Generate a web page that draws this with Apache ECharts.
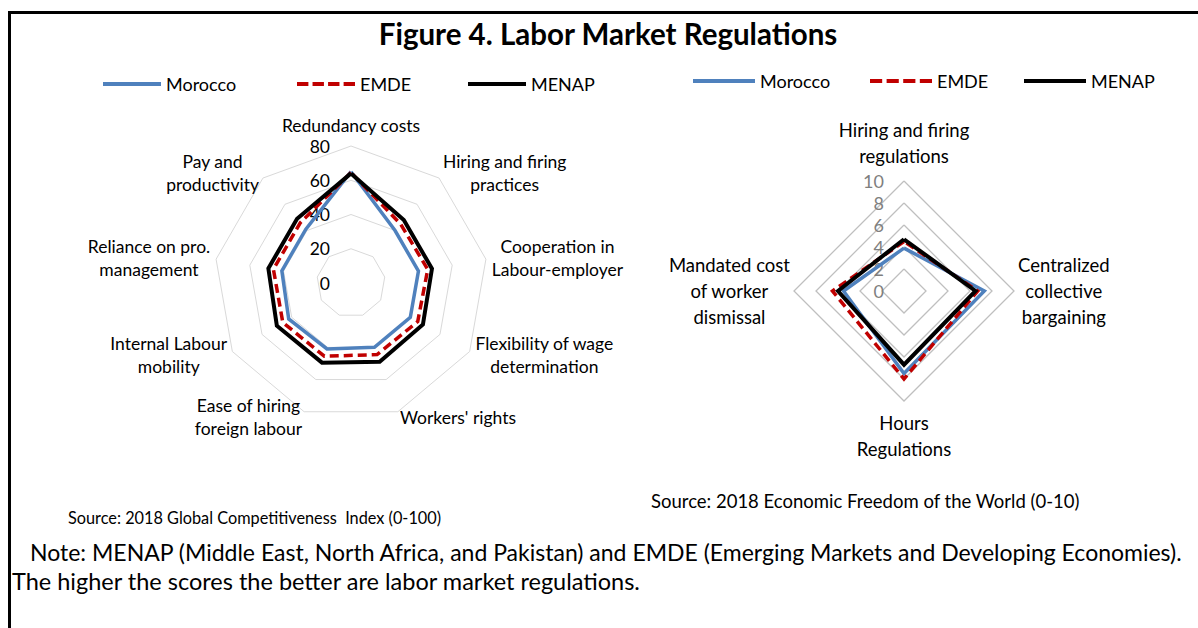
<!DOCTYPE html>
<html>
<head>
<meta charset="utf-8">
<script src="https://cdn.jsdelivr.net/npm/echarts@6/dist/echarts.min.js"></script>
<style>
  html, body { margin: 0; padding: 0; background: #fff; }
  #chart { width: 1198px; height: 628px; }
</style>
</head>
<body>
<div id="chart"></div>
<script>
// ---------- DATA ----------
const gciCategories = ['Redundancy costs', 'Hiring and firing\npractices', 'Cooperation in\nLabour-employer',
  'Flexibility of wage\ndetermination', "Workers' rights", 'Ease of hiring\nforeign labour',
  'Internal Labour\nmobility', 'Reliance on pro.\nmanagement', 'Pay and\nproductivity'];
const gciMorocco = [65, 40, 40, 40, 40, 41, 42, 41, 41];
const gciEMDE    = [64.5, 45, 45.5, 45, 44.5, 45.5, 46, 46, 46];
const gciMENAP   = [64, 48, 48, 48.5, 49, 49.5, 50, 49, 49];
const gciMax = 80;

const efwCategories = ['Hiring and firing\nregulations', 'Centralized\ncollective\nbargaining',
  'Hours\nRegulations', 'Mandated cost\nof worker\ndismissal'];
const efwMorocco = [3.9, 7.3, 7.5, 5.5];
const efwEMDE    = [4.5, 6.7, 8.0, 6.5];
const efwMENAP   = [4.7, 6.5, 6.7, 6.0];
const efwMax = 10;

const seriesNames = ['Morocco', 'EMDE', 'MENAP'];
const titleText = 'Figure 4. Labor Market Regulations';
const sourceLeft = 'Source: 2018 Global Competitiveness  Index (0-100)';
const sourceRight = 'Source: 2018 Economic Freedom of the World (0-10)';
const noteLine1 = 'Note: MENAP (Middle East, North Africa, and Pakistan) and EMDE (Emerging Markets and Developing Economies).';
const noteLine2 = 'The higher the scores the better are labor market regulations.';

// ---------- STYLE / LAYOUT ----------
const FONT = 'Lato, "Open Sans", sans-serif';
const colors = { Morocco: '#4f81bd', EMDE: '#c00000', MENAP: '#000000' };
const widths = { Morocco: 3.5, EMDE: 3.5, MENAP: 4 };
const dashes = { Morocco: 'solid', EMDE: [9, 5], MENAP: 'solid' };
const dashIcon = 'path://M0,0h11v4h-11zM15,0h11v4h-11zM30,0h11v4h-11zM45,0h11v4h-11z';
const gciNameGaps = [9, 6, 6, 6, 6, 6, 6, 6, 6];
const efwNameGaps = [12, 4, 9, 4];

// ECharts lays radar indicators counter-clockwise; reference goes clockwise.
function cwOrder(arr) { return [arr[0]].concat(arr.slice(1).reverse()); }

function nameFormatter(name) {
  return name.split('\n').map(l => '{c|' + l + '}').join('\n');
}

function makeIndicators(cats, max, gaps) {
  const g = cwOrder(gaps);
  return cwOrder(cats).map((c, i) => {
    const o = { name: c, min: 0, max: max, nameGap: g[i] };
    if (i === 0) o.axisLabel = { show: true };
    return o;
  });
}

function makeSeries(radarIndex, vals) {
  return {
    type: 'radar', radarIndex: radarIndex, symbol: 'none', silent: true,
    emphasis: { disabled: true },
    data: seriesNames.map((n, k) => ({
      name: n, value: cwOrder(vals[k]),
      lineStyle: { color: colors[n], width: widths[n], type: dashes[n], join: 'miter' },
      itemStyle: { color: colors[n] }
    }))
  };
}

function makeLegend(name, left, top, w) {
  return {
    data: [{ name: name, icon: name === 'EMDE' ? dashIcon : 'rect' }],
    left: left, top: top, padding: 0, itemWidth: w, itemHeight: 4,
    symbolKeepAspect: false, selectedMode: false,
    textStyle: { fontSize: 18, fontFamily: FONT, color: '#000' }
  };
}

const chart = echarts.init(document.getElementById('chart'), null, { renderer: 'svg' });

const option = {
  animation: false,
  backgroundColor: '#fff',
  legend: [
    makeLegend('Morocco', 103, 75, 58),
    makeLegend('EMDE', 297, 75, 58),
    makeLegend('MENAP', 468, 75, 58),
    makeLegend('Morocco', 693, 72, 62),
    makeLegend('EMDE', 870, 72, 62),
    makeLegend('MENAP', 1024, 72, 62)
  ],
  radar: [
    {
      center: [351, 283], radius: 137, startAngle: 90, splitNumber: 4, shape: 'polygon',
      indicator: makeIndicators(gciCategories, gciMax, gciNameGaps),
      axisLine: { show: false }, axisTick: { show: false },
      splitArea: { show: false },
      splitLine: { lineStyle: { color: '#d9d9d9', width: 1 } },
      axisLabel: { show: false, color: '#000', fontSize: 17.5, fontFamily: FONT, margin: 21 },
      nameGap: 6,
      axisName: {
        formatter: nameFormatter, color: '#000', fontSize: 17.5, fontFamily: FONT,
        rich: { c: { align: 'center', fontSize: 17.5, fontFamily: FONT, color: '#000', lineHeight: 23 } }
      }
    },
    {
      center: [904, 291], radius: 110, startAngle: 90, splitNumber: 5, shape: 'polygon',
      indicator: makeIndicators(efwCategories, efwMax, efwNameGaps),
      axisLine: { show: false }, axisTick: { show: false },
      splitArea: { show: false },
      splitLine: { lineStyle: { color: '#bfbfbf', width: 1.3 } },
      axisLabel: { show: false, color: '#7f7f7f', fontSize: 18, fontFamily: FONT, margin: 20 },
      nameGap: 6,
      axisName: {
        formatter: nameFormatter, color: '#000', fontSize: 18.5, fontFamily: FONT,
        rich: { c: { align: 'center', fontSize: 18.5, fontFamily: FONT, color: '#000', lineHeight: 26 } }
      }
    }
  ],
  series: [
    makeSeries(0, [gciMorocco, gciEMDE, gciMENAP]),
    makeSeries(1, [efwMorocco, efwEMDE, efwMENAP])
  ],
  graphic: [
    { type: 'line', shape: { x1: 8, y1: 12.5, x2: 1198, y2: 12.5 }, style: { stroke: '#000', lineWidth: 3 } },
    { type: 'line', shape: { x1: 9.5, y1: 11, x2: 9.5, y2: 628 }, style: { stroke: '#000', lineWidth: 3 } },
    { type: 'text', x: 608, y: 33, style: { text: titleText, font: 'bold 29.5px ' + FONT, fill: '#000', textAlign: 'center', textVerticalAlign: 'middle' } },
    { type: 'text', x: 68, y: 517, style: { text: sourceLeft, font: '16.3px ' + FONT, fill: '#000', textAlign: 'left', textVerticalAlign: 'middle' } },
    { type: 'text', x: 651, y: 501, style: { text: sourceRight, font: '18.5px ' + FONT, fill: '#000', textAlign: 'left', textVerticalAlign: 'middle' } },
    { type: 'text', x: 30, y: 552, style: { text: noteLine1, font: '23px ' + FONT, fill: '#000', textAlign: 'left', textVerticalAlign: 'middle' } },
    { type: 'text', x: 12, y: 581, style: { text: noteLine2, font: '23.5px ' + FONT, fill: '#000', textAlign: 'left', textVerticalAlign: 'middle' } }
  ]
};
chart.setOption(option);
</script>
</body>
</html>
